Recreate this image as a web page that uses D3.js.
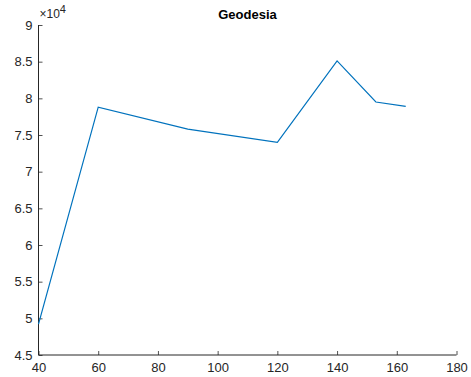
<!DOCTYPE html>
<html>
<head>
<meta charset="utf-8">
<script src="https://cdn.jsdelivr.net/npm/d3@7"></script>
<style>
  html, body { margin: 0; padding: 0; background: #fff; }
  svg { display: block; font-family: "Liberation Sans", Arial, Helvetica, sans-serif; }
</style>
</head>
<body>
<svg id="chart" width="471" height="377"></svg>
<script>
// Geodesia series
const xValues = [40, 60, 90, 120, 140, 153, 163];
const yValues = [49200, 78800, 75800, 74000, 85100, 79500, 78900];
const xTicks = [40, 60, 80, 100, 120, 140, 160, 180];
const yTicks = [4.5, 5, 5.5, 6, 6.5, 7, 7.5, 8, 8.5, 9];
const yExponent = 4;
const titleText = "Geodesia";

const svg = d3.select("#chart");
const margin = { left: 38.5, right: 14.5, top: 25, bottom: 22 };
const W = 471, H = 377;

const x = d3.scaleLinear().domain([40, 180]).range([margin.left, W - margin.right]);
const y = d3.scaleLinear().domain([4.5, 9]).range([H - margin.bottom, margin.top]);
const scale = Math.pow(10, yExponent);

const axisColor = "#262626";

// x axis
const gx = svg.append("g")
  .attr("transform", `translate(0,${H - margin.bottom})`)
  .call(d3.axisBottom(x).tickValues(xTicks).tickSize(-4).tickPadding(8).tickFormat(d3.format("d")));
// y axis
const gy = svg.append("g")
  .attr("transform", `translate(${margin.left},0)`)
  .call(d3.axisLeft(y).tickValues(yTicks).tickSize(-4).tickPadding(6).tickFormat(d => String(d)));

[gx, gy].forEach(g => {
  g.select(".domain").attr("stroke", axisColor).attr("stroke-width", 1);
  g.selectAll(".tick line").attr("stroke", axisColor).attr("stroke-width", 0.8);
  g.selectAll(".tick text").attr("fill", axisColor).attr("font-size", 13)
    .attr("font-family", "'Liberation Sans', Arial, sans-serif");
});
gx.select(".domain").attr("d", `M${margin.left},0H${W - margin.right}`);
gy.select(".domain").attr("d", `M0,${H - margin.bottom}V${margin.top}`);

// exponent label
const expLabel = svg.append("text")
  .attr("x", margin.left + 1)
  .attr("y", margin.top - 7)
  .attr("fill", axisColor)
  .attr("font-size", 12);
expLabel.append("tspan").text("\u00d710");
expLabel.append("tspan").attr("dy", -5).attr("font-size", 11).text(yExponent);

// title
svg.append("text")
  .attr("x", (margin.left + W - margin.right) / 2)
  .attr("y", 19)
  .attr("text-anchor", "middle")
  .attr("font-weight", "bold")
  .attr("font-size", 13)
  .attr("fill", "#000")
  .text(titleText);

// data line
const data = xValues.map((v, i) => ({ x: v, y: yValues[i] / scale }));
svg.append("path")
  .datum(data)
  .attr("fill", "none")
  .attr("stroke", "#0072BD")
  .attr("stroke-width", 1.2)
  .attr("d", d3.line().x(d => x(d.x)).y(d => y(d.y)));
</script>
</body>
</html>
